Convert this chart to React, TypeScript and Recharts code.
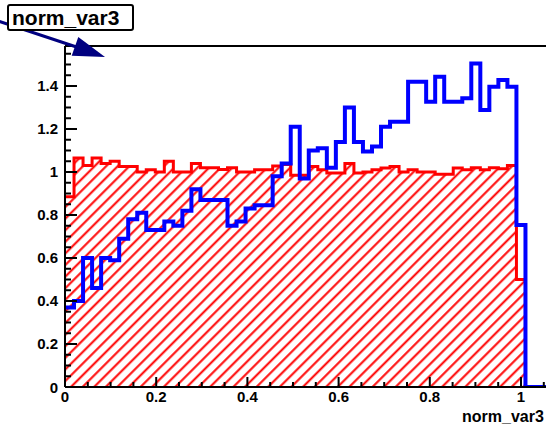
import React from 'react';
import { ComposedChart, Area, Line, XAxis, YAxis, ReferenceLine } from 'recharts';

const BIN_LOW = 0;
const BIN_WIDTH = 0.0198;
const X_MAX = 1.1;
const Y_MAX = 1.586;

const redValues = [
  0.885, 1.065, 1.03, 1.065, 1.04, 1.05, 1.025, 1.025, 1.0, 1.01,
  1.0, 1.05, 1.0, 1.0, 1.04, 1.02, 1.02, 1.012, 1.02, 1.0,
  1.0, 1.01, 1.01, 1.028, 1.035, 0.985, 0.985, 1.025, 1.01, 0.995,
  0.995, 1.04, 0.995, 1.0, 1.01, 1.018, 1.025, 1.0, 1.01, 1.0,
  1.0, 0.99, 0.99, 1.018, 1.01, 1.02, 1.01, 1.02, 1.015, 1.03,
  0.5,
];

const blueValues = [
  0.37, 0.4, 0.6, 0.46, 0.6, 0.59, 0.69, 0.78, 0.81, 0.73,
  0.73, 0.77, 0.75, 0.82, 0.92, 0.87, 0.87, 0.87, 0.75, 0.77,
  0.83, 0.845, 0.845, 0.98, 1.04, 1.21, 0.97, 1.1, 1.11, 1.02,
  1.14, 1.3, 1.14, 1.095, 1.118, 1.21, 1.234, 1.234, 1.42, 1.42,
  1.327, 1.443, 1.327, 1.327, 1.343, 1.505, 1.288, 1.397, 1.428, 1.397,
  0.753,
];

const xTickValues = [0, 0.05, 0.1, 0.15, 0.2, 0.25, 0.3, 0.35, 0.4, 0.45, 0.5, 0.55, 0.6, 0.65, 0.7, 0.75, 0.8, 0.85, 0.9, 0.95, 1.0, 1.05];
const xMajorValues = [0, 0.2, 0.4, 0.6, 0.8, 1.0];
const xMajorLabels = ['0', '0.2', '0.4', '0.6', '0.8', '1'];

const yTickValues = [0, 0.05, 0.1, 0.15, 0.2, 0.25, 0.3, 0.35, 0.4, 0.45, 0.5, 0.55, 0.6, 0.65, 0.7, 0.75, 0.8, 0.85, 0.9, 0.95, 1.0, 1.05, 1.1, 1.15, 1.2, 1.25, 1.3, 1.35, 1.4, 1.45, 1.5, 1.55];
const yMajorValues = [0, 0.2, 0.4, 0.6, 0.8, 1.0, 1.2, 1.4];
const yMajorLabels = ['0', '0.2', '0.4', '0.6', '0.8', '1', '1.2', '1.4'];

const histTitle = 'norm_var3';
const xAxisTitle = 'norm_var3';

// histogram table: left edges of bins, then closing edge, then empty range
const nBins = redValues.length;
const data: any[] = [];
for (let i = 0; i < nBins; i++) {
  data.push({ x: BIN_LOW + i * BIN_WIDTH, red: redValues[i], blue: blueValues[i] });
}
data.push({ x: BIN_LOW + nBins * BIN_WIDTH, red: 0, blue: 0 });
data.push({ x: X_MAX, red: null, blue: 0 });

const CHART_W = 600;
const CHART_H = 424;
const M_LEFT = 65;
const M_TOP = 46;
const M_BOTTOM = 37;
const PLOT_PX_PER_UNIT = 456;
const M_RIGHT = CHART_W - M_LEFT - PLOT_PX_PER_UNIT * X_MAX;
const AXIS_Y = CHART_H - M_BOTTOM;
const FONT = '"Liberation Sans", Arial, Helvetica, sans-serif';

const findMajor = (arr: number[], v: number) => arr.findIndex((m) => Math.abs(m - v) < 1e-6);

const XTick = (props: any) => {
  const { x, payload } = props;
  const idx = findMajor(xMajorValues, payload.value);
  const major = idx >= 0;
  return (
    <g>
      <line x1={x} x2={x} y1={AXIS_Y} y2={AXIS_Y - (major ? 10 : 5)} stroke="#000" strokeWidth={2} />
      {major && (
        <text x={x} y={AXIS_Y + 15} textAnchor="middle" fontFamily={FONT} fontWeight="bold" fontSize={15} fill="#000">
          {xMajorLabels[idx]}
        </text>
      )}
    </g>
  );
};

const YTick = (props: any) => {
  const { y, payload } = props;
  const idx = findMajor(yMajorValues, payload.value);
  const major = idx >= 0;
  return (
    <g>
      <line x1={M_LEFT} x2={M_LEFT + (major ? 12 : 6)} y1={y} y2={y} stroke="#000" strokeWidth={2} />
      {major && (
        <text x={M_LEFT - 7} y={y + 5.5} textAnchor="end" fontFamily={FONT} fontWeight="bold" fontSize={15} fill="#000">
          {yMajorLabels[idx]}
        </text>
      )}
    </g>
  );
};

export default function App() {
  return (
    <div style={{ position: 'absolute', left: 0, top: 0, width: 546, height: 424, overflow: 'hidden', background: '#fff' }}>
      <ComposedChart
        width={CHART_W}
        height={CHART_H}
        data={data}
        margin={{ top: M_TOP, right: M_RIGHT, left: 0, bottom: 0 }}
      >
        <defs>
          <pattern id="hatch" patternUnits="userSpaceOnUse" width="8.2" height="8.2" patternTransform="rotate(45)">
            <line x1="4" y1="0" x2="4" y2="8.2" stroke="#ff0000" strokeWidth="2" />
          </pattern>
        </defs>
        <XAxis
          dataKey="x"
          type="number"
          domain={[0, X_MAX]}
          ticks={xTickValues}
          interval={0}
          height={M_BOTTOM}
          tick={<XTick />}
          tickLine={false}
          axisLine={{ stroke: '#000', strokeWidth: 2 }}
          allowDataOverflow
        />
        <YAxis
          type="number"
          domain={[0, Y_MAX]}
          ticks={yTickValues}
          interval={0}
          width={M_LEFT}
          tick={<YTick />}
          tickLine={false}
          axisLine={{ stroke: '#000', strokeWidth: 2 }}
          allowDataOverflow
        />
        <ReferenceLine y={Y_MAX} stroke="#000" strokeWidth={2} ifOverflow="visible" />
        <Area
          dataKey="red"
          type="stepAfter"
          stroke="#ff0000"
          strokeWidth={3}
          fill="url(#hatch)"
          fillOpacity={1}
          isAnimationActive={false}
          dot={false}
          activeDot={false}
        />
        <Line
          dataKey="blue"
          type="stepAfter"
          stroke="#0000ff"
          strokeWidth={4}
          dot={false}
          activeDot={false}
          isAnimationActive={false}
        />
      </ComposedChart>
      <svg width={546} height={424} style={{ position: 'absolute', left: 0, top: 0, pointerEvents: 'none' }}>
        <text x={462} y={422} fontFamily={FONT} fontWeight="bold" fontSize={16} fill="#000">
          {xAxisTitle}
        </text>
        <line x1={-2} y1={21} x2={78} y2={47.5} stroke="#000080" strokeWidth={3} />
        <polygon points="105,57 71.7,55.8 78.3,37" fill="#000080" />
        <rect x={8} y={5} width={125} height={25} rx={2} fill="#fff" stroke="#000" strokeWidth={2} />
        <text x={12} y={25} fontFamily={FONT} fontWeight="bold" fontSize={21} fill="#000">
          {histTitle}
        </text>
      </svg>
    </div>
  );
}
